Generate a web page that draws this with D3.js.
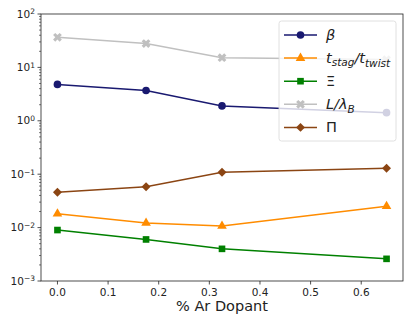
<!DOCTYPE html>
<html lang="en">
<head>
    <meta charset="UTF-8">
    <title>Ar dopant</title>
    <script src="https://d3js.org/d3.v7.min.js"></script>
    <style>
        body, html { margin: 0px; background: white; }
        text { font-family: "DejaVu Sans", sans-serif; fill: #222; }
    </style>
</head>
<body>
    <div id="chart"></div>
    <script>
        // data
        var dopant = [0, 0.175, 0.325, 0.65];
        var beta = [4.8, 3.7, 1.9, 1.42];
        var tRatio = [0.0182, 0.0122, 0.0107, 0.0251];
        var xi = [0.0090, 0.0060, 0.0040, 0.0026];
        var lLambda = [36.6, 28, 15.2, 14.0];
        var pi = [0.0458, 0.0583, 0.1087, 0.129];
        var xTicks = [0, 0.1, 0.2, 0.3, 0.4, 0.5, 0.6];
        var yTicks = [2, 1, 0, -1, -2, -3];

        var series = [
            { name: "beta", vals: beta, color: "#191970", shape: d3.symbolCircle, size: 46 },
            { name: "t", vals: tRatio, color: "#ff8c00", shape: d3.symbolTriangle, size: 40 },
            { name: "xi", vals: xi, color: "#008000", shape: d3.symbolSquare, size: 44 },
            { name: "L", vals: lLambda, color: "#c0c0c0", shape: d3.symbolCross, size: 48, rot: 45 },
            { name: "pi", vals: pi, color: "#8b4513", shape: d3.symbolSquare, size: 40, rot: 45 }
        ];

        var width = 406, height = 317;
        var mLeft = 41, mRight = 403, mTop = 14, mBottom = 281;

        var svg = d3.select("#chart").append("svg")
            .attr("width", width).attr("height", height);

        var x = d3.scaleLinear().domain([-0.0325, 0.6825]).range([mLeft, mRight]);
        var y = d3.scaleLog().domain([1e-3, 1e2]).range([mBottom, mTop]);

        // minor ticks
        var minor = [];
        for (var e = -3; e < 2; e++) {
            for (var m = 2; m < 10; m++) minor.push(m * Math.pow(10, e));
        }
        svg.append("g").selectAll("line").data(minor).enter().append("line")
            .attr("x1", mLeft).attr("x2", mLeft - 2)
            .attr("y1", d => y(d)).attr("y2", d => y(d))
            .style("stroke", "#222").style("stroke-width", 0.6);

        // y major ticks + labels
        var yg = svg.append("g").selectAll("g").data(yTicks).enter().append("g")
            .attr("transform", d => "translate(0," + y(Math.pow(10, d)) + ")");
        yg.append("line").attr("x1", mLeft).attr("x2", mLeft - 3.5)
            .style("stroke", "#222").style("stroke-width", 0.8);
        var yl = yg.append("text").attr("x", mLeft - 6).attr("dy", "0.35em")
            .style("text-anchor", "end").style("font-size", "10.5px");
        yl.append("tspan").text("10");
        yl.append("tspan").attr("dy", "-0.45em").style("font-size", "7.5px").text(d => d < 0 ? "\u2212" + (-d) : d);

        // x axis ticks
        var xg = svg.append("g").selectAll("g").data(xTicks).enter().append("g")
            .attr("transform", d => "translate(" + x(d) + ",0)");
        xg.append("line").attr("y1", mBottom).attr("y2", mBottom + 3.5)
            .style("stroke", "#222").style("stroke-width", 0.8);
        xg.append("text").attr("y", mBottom + 15).style("text-anchor", "middle")
            .style("font-size", "10.5px").text(d => d.toFixed(1));

        svg.append("text").attr("x", (mLeft + mRight) / 2).attr("y", 311)
            .style("text-anchor", "middle").style("font-size", "14.5px").text("% Ar Dopant");

        // lines and markers
        var line = d3.line().x((d, i) => x(dopant[i])).y(d => y(d));
        series.forEach(function (s) {
            svg.append("path").attr("d", line(s.vals))
                .style("fill", "none").style("stroke", s.color).style("stroke-width", 1.5);
            svg.append("g").selectAll("path").data(s.vals).enter().append("path")
                .attr("d", d3.symbol().type(s.shape).size(s.size))
                .attr("transform", (d, i) => "translate(" + x(dopant[i]) + "," + y(d) + ") rotate(" + (s.rot || 0) + ")")
                .style("fill", s.color);
        });

        // frame
        svg.append("rect").attr("x", mLeft).attr("y", mTop)
            .attr("width", mRight - mLeft).attr("height", mBottom - mTop)
            .style("fill", "none").style("stroke", "#222").style("stroke-width", 0.8);

        // legend
        var lg = svg.append("g");
        lg.append("rect").attr("x", 279).attr("y", 21).attr("width", 117).attr("height", 120)
            .attr("rx", 2.5)
            .style("fill", "white").style("fill-opacity", 0.8)
            .style("stroke", "#d8d8d8").style("stroke-width", 0.8);
        var rows = lg.selectAll("g").data(series).enter().append("g")
            .attr("transform", (d, i) => "translate(0," + (35 + i * 23.1) + ")");
        rows.append("line").attr("x1", 284).attr("x2", 317)
            .style("stroke", d => d.color).style("stroke-width", 1.5);
        rows.append("path").attr("d", d => d3.symbol().type(d.shape).size(d.size)())
            .attr("transform", d => "translate(300.5,0) rotate(" + (d.rot || 0) + ")")
            .style("fill", d => d.color);
        var lt = rows.append("text").attr("x", 326).attr("dy", "0.35em").style("font-size", "14.5px");
        lt.each(function (d) {
            var t = d3.select(this);
            if (d.name === "beta") {
                t.append("tspan").style("font-style", "italic").text("\u03b2");
            } else if (d.name === "t") {
                t.append("tspan").style("font-style", "italic").text("t");
                t.append("tspan").style("font-style", "italic").style("font-size", "10.5px").attr("dy", "0.3em").text("stag");
                t.append("tspan").style("font-style", "italic").attr("dy", "-0.2em").text("/t");
                t.append("tspan").style("font-style", "italic").style("font-size", "10.5px").attr("dy", "0.3em").text("twist");
            } else if (d.name === "xi") {
                t.text("\u039e");
            } else if (d.name === "L") {
                t.append("tspan").style("font-style", "italic").text("L/\u03bb");
                t.append("tspan").style("font-style", "italic").style("font-size", "10.5px").attr("dy", "0.3em").text("B");
            } else {
                t.text("\u03a0");
            }
        });
    </script>
</body>
</html>
